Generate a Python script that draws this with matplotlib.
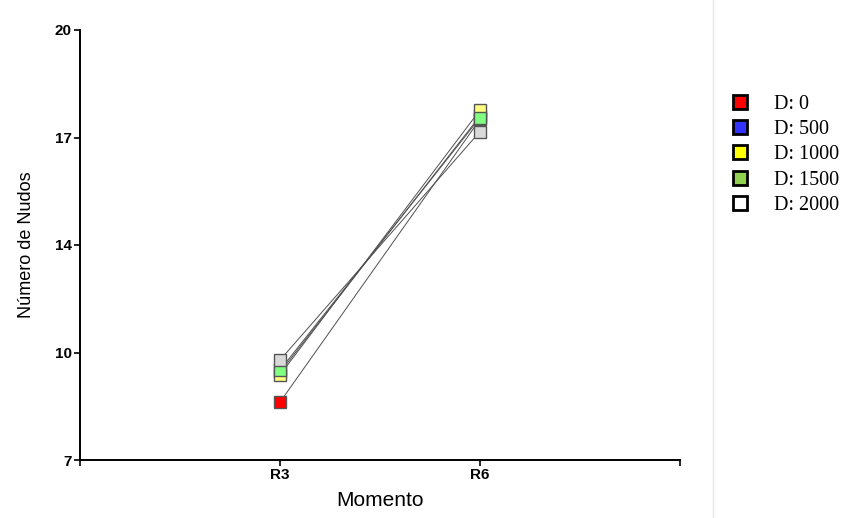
import matplotlib.pyplot as plt
from matplotlib.lines import Line2D
import numpy as np

# datos
momentos = ['R3', 'R6']
dosis = ['D: 0', 'D: 500', 'D: 1000', 'D: 1500', 'D: 2000']
d0 = [8.75, 17.30]
d500 = [9.65, 17.40]
d1000 = [9.57, 17.58]
d1500 = [9.72, 17.35]
d2000 = [10.02, 16.93]
series = [d0, d500, d1000, d1500, d2000]

colores_plot = ['#ff0000', '#3333ff', '#ffff80', '#80ff80', '#d9d9d9']
colores_leyenda = ['#ff0000', '#3333ff', '#ffff00', '#92d050', '#ffffff']

fig = plt.figure(figsize=(8.43, 5.18), dpi=100)
ax = fig.add_axes([80 / 843, 1 - 460 / 518, 600 / 843, 430 / 518])

x = np.arange(1, len(momentos) + 1)
for vals, c in zip(series, colores_plot):
    ax.plot(x, vals, color='#505050', lw=0.7, marker='s', markersize=9,
            markerfacecolor=c, markeredgecolor='#555555', markeredgewidth=1.0)

ax.set_xlim(0, 3)
ax.set_ylim(7, 20)
yt = np.linspace(7, 20, 5)
ax.set_yticks(yt)
ax.set_yticklabels(['%.0f' % v for v in yt])
ax.set_xticks([0, 1, 2, 3])
ax.set_xticklabels([''] + momentos + [''])

for s in ['top', 'right']:
    ax.spines[s].set_visible(False)
for s in ['left', 'bottom']:
    ax.spines[s].set_linewidth(1.4)
ax.tick_params(direction='out', length=4, width=1.2, labelsize=11, pad=2)
for lab in ax.get_xticklabels() + ax.get_yticklabels():
    lab.set_family('Liberation Sans')
    lab.set_fontweight('bold')

ax.set_ylabel('Número de Nudos', fontsize=13, family='Liberation Sans', labelpad=14)
ax.set_xlabel('Momento', fontsize=15, family='Liberation Sans', labelpad=6)

# separador del panel de leyenda
fig.add_artist(Line2D([713 / 843, 713 / 843], [0, 1], color='#e6e6e6', lw=1))

handles = [Line2D([], [], ls='none', marker='s', markersize=10, markerfacecolor=c,
                  markeredgecolor='black', markeredgewidth=2) for c in colores_leyenda]
fig.legend(handles, dosis, loc='upper left', bbox_to_anchor=(718 / 843, 1 - 85 / 518),
           frameon=False, prop={'family': 'Liberation Serif', 'size': 14.5},
           handletextpad=1.1, labelspacing=0.3, handlelength=1.2, borderpad=0)

fig.savefig('out.png', dpi=100)
